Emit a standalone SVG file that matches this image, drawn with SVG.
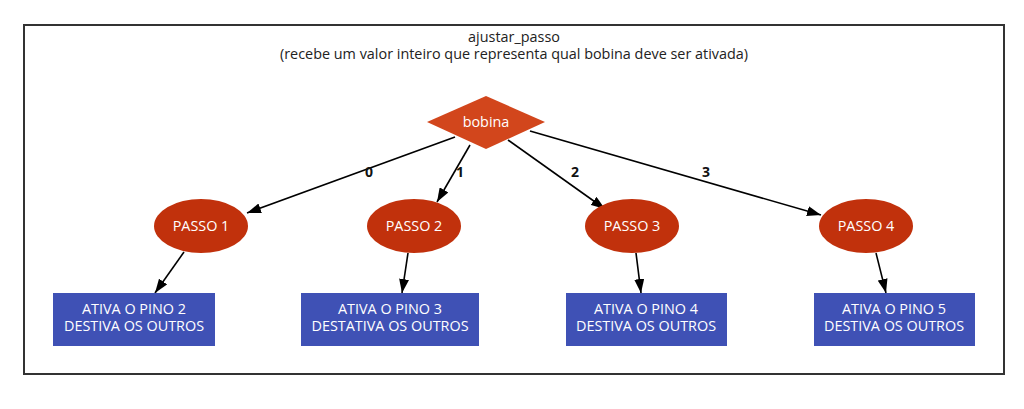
<svg xmlns="http://www.w3.org/2000/svg" width="1024" height="409" viewBox="0 0 1024 409">
<defs>
<marker id="ah" viewBox="0 0 14 10" refX="14" refY="5" markerWidth="14" markerHeight="10" markerUnits="userSpaceOnUse" orient="auto">
<path d="M0,0 L14,5 L0,10 z" fill="#000"/>
</marker>
</defs>
<style>
text{font-family:"Open Sans","Noto Sans",sans-serif;}
.t{font-size:14.4px;fill:#222;text-anchor:middle;}
.n{font-size:14.4px;fill:#fff;text-anchor:middle;}
.el{fill:#c1310c;}
.bx{fill:#3f51b5;}
.e{stroke:#000;stroke-width:1.6;fill:none;marker-end:url(#ah);}
.l{font-size:14px;font-weight:bold;fill:#111;text-anchor:middle;}
</style>
<rect x="0" y="0" width="1024" height="409" fill="#fff"/>
<rect x="24" y="25" width="980" height="349" fill="none" stroke="#333" stroke-width="2"/>
<text class="t" x="514" y="42">ajustar_passo</text>
<text class="t" x="514" y="59">(recebe um valor inteiro que representa qual bobina deve ser ativada)</text>
<g id="connectors">
<line class="e" x1="455" y1="137" x2="247" y2="213"/>
<line class="e" x1="470" y1="145" x2="437" y2="202"/>
<line class="e" x1="508" y1="140" x2="605" y2="209"/>
<line class="e" x1="530" y1="131" x2="821" y2="215"/>
<line class="e" x1="184" y1="252" x2="155" y2="293"/>
<line class="e" x1="408" y1="253" x2="402" y2="293"/>
<line class="e" x1="636" y1="253" x2="641" y2="293"/>
<line class="e" x1="876" y1="253" x2="886" y2="293"/>
<text class="l" x="369" y="177">0</text>
<text class="l" x="460" y="177">1</text>
<text class="l" x="575" y="177">2</text>
<text class="l" x="706" y="177">3</text>
</g>
<g id="bobina">
<polygon points="486,96 545,122 486,149 427,122" fill="#d2461c"/>
<text class="n" x="486" y="127">bobina</text>
</g>
<g id="passo1"><ellipse class="el" cx="201" cy="226" rx="47" ry="27"/><text class="n" x="201" y="231">PASSO 1</text></g>
<g id="passo2"><ellipse class="el" cx="414" cy="226" rx="47" ry="27"/><text class="n" x="414" y="231">PASSO 2</text></g>
<g id="passo3"><ellipse class="el" cx="632" cy="226" rx="47" ry="27"/><text class="n" x="632" y="231">PASSO 3</text></g>
<g id="passo4"><ellipse class="el" cx="866" cy="226" rx="47" ry="27"/><text class="n" x="866" y="231">PASSO 4</text></g>
<g id="pino2"><rect class="bx" x="53" y="293" width="162" height="53"/><text class="n" x="134" y="314">ATIVA O PINO 2</text><text class="n" x="134" y="331">DESTIVA OS OUTROS</text></g>
<g id="pino3"><rect class="bx" x="301" y="293" width="178" height="53"/><text class="n" x="390" y="314">ATIVA O PINO 3</text><text class="n" x="390" y="331">DESTATIVA OS OUTROS</text></g>
<g id="pino4"><rect class="bx" x="566" y="293" width="161" height="53"/><text class="n" x="646" y="314">ATIVA O PINO 4</text><text class="n" x="646" y="331">DESTIVA OS OUTROS</text></g>
<g id="pino5"><rect class="bx" x="814" y="293" width="161" height="53"/><text class="n" x="894" y="314">ATIVA O PINO 5</text><text class="n" x="894" y="331">DESTIVA OS OUTROS</text></g>
</svg>
